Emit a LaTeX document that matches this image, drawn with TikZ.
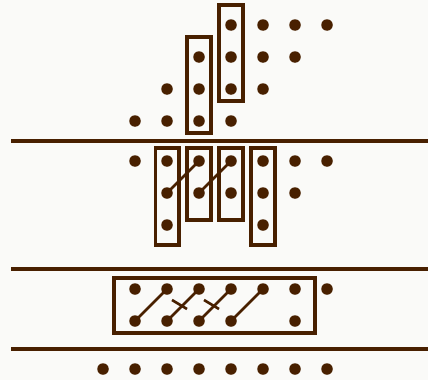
\documentclass[tikz,border=0pt]{standalone}
\definecolor{ink}{RGB}{72,32,0}
\definecolor{bg}{RGB}{250,250,248}
\begin{document}
\begin{tikzpicture}[x=1pt,y=-1pt,
  dot/.style={circle,fill=ink,inner sep=0pt,minimum size=11.5pt},
  frame/.style={draw=ink,line width=3.1pt},
  rule/.style={draw=ink,line width=3.4pt},
  link/.style={draw=ink,line width=2.8pt},
  tick/.style={draw=ink,line width=2.6pt}]
\fill[bg] (0,0) rectangle (428,380);
\useasboundingbox (0,0) rectangle (428,380);
% rows
\foreach \r/\y/\cols in {1/25/{5,6,7,8},2/57/{4,5,6,7},3/89/{3,4,5,6},4/121/{2,3,4,5},
  5/161/{2,3,4,5,6,7,8},6/193/{3,4,5,6,7},7/225/{3,6},
  8/289/{2,3,4,5,6,7,8},9/321/{2,3,4,5,7},10/369/{1,2,3,4,5,6,7,8}}{
  \foreach \c in \cols {\node[dot] (d-\c-\r) at ({103+32*(\c-1)},\y) {};}
}
% horizontal rules
\coordinate (l1a) at (11,141); \coordinate (l1b) at (428,141);
\coordinate (l2a) at (11,269); \coordinate (l2b) at (428,269);
\coordinate (l3a) at (11,349); \coordinate (l3b) at (428,349);
\draw[rule] (l1a) -- (l1b);
\draw[rule] (l2a) -- (l2b);
\draw[rule] (l3a) -- (l3b);
% frames section 1
\draw[frame] (187,37) rectangle (211,133);
\draw[frame] (219,5) rectangle (243,101);
% frames section 2
\draw[frame] (155.5,148) rectangle (179,245);
\draw[frame] (187,148) rectangle (211,220);
\draw[frame] (219,148) rectangle (243,220);
\draw[frame] (251,148) rectangle (275,245);
% frame section 3
\draw[frame] (114,278) rectangle (315,333);
% links
\draw[link] (d-3-6.center) -- (d-4-5.center);
\draw[link] (d-4-6.center) -- (d-5-5.center);
\draw[link] (d-2-9.center) -- (d-3-8.center);
\draw[link] (d-3-9.center) -- (d-4-8.center);
\draw[link] (d-4-9.center) -- (d-5-8.center);
\draw[link] (d-5-9.center) -- (d-6-8.center);
% crossing ticks
\draw[tick] (172,300) -- (187,309);
\draw[tick] (204,300) -- (219,309);
\end{tikzpicture}
\end{document}
